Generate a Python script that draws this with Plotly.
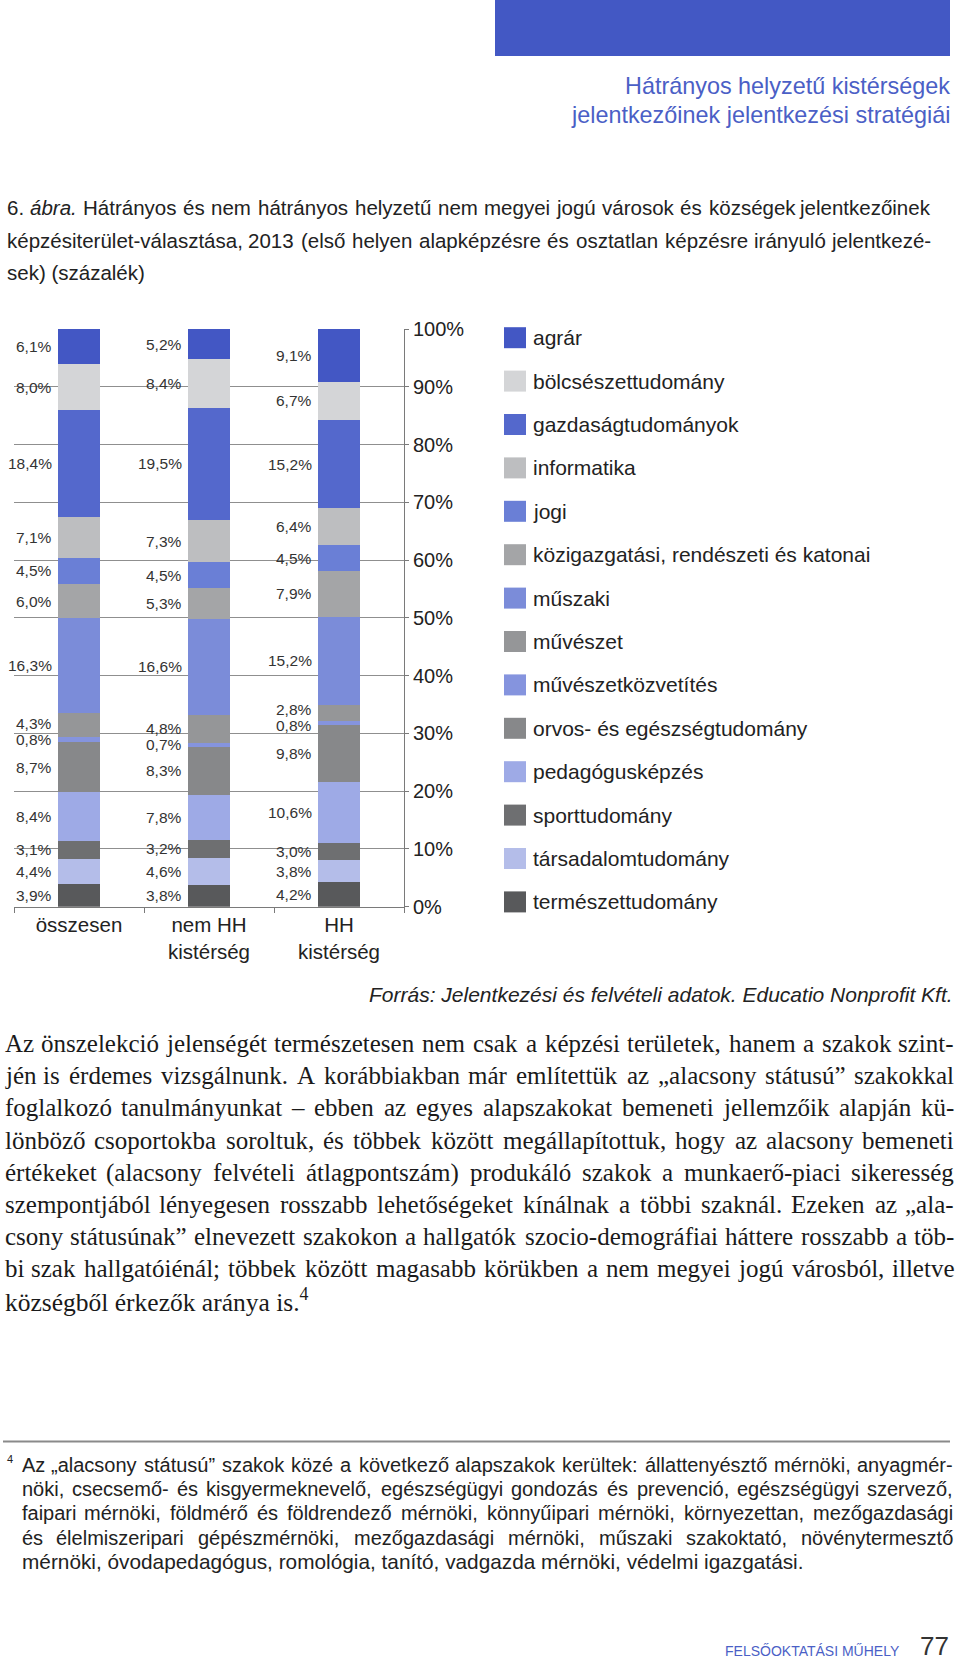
import unicodedata
import plotly.graph_objects as go

W, H = 960, 1666

# ---------------- data ----------------
categories = ["összesen", "nem HH<br>kistérség", "HH<br>kistérség"]
fields = [
    "agrár", "bölcsészettudomány", "gazdaságtudományok", "informatika", "jogi",
    "közigazgatási, rendészeti és katonai", "műszaki", "művészet",
    "művészetközvetítés", "orvos- és egészségtudomány", "pedagógusképzés",
    "sporttudomány", "társadalomtudomány", "természettudomány",
]
osszesen = [6.1, 8.0, 18.4, 7.1, 4.5, 6.0, 16.3, 4.3, 0.8, 8.7, 8.4, 3.1, 4.4, 3.9]
nem_hh = [5.2, 8.4, 19.5, 7.3, 4.5, 5.3, 16.6, 4.8, 0.7, 8.3, 7.8, 3.2, 4.6, 3.8]
hh = [9.1, 6.7, 15.2, 6.4, 4.5, 7.9, 15.2, 2.8, 0.8, 9.8, 10.6, 3.0, 3.8, 4.2]
colors = ["#4357c4", "#d4d5d7", "#5468cc", "#bdbec0", "#6a7fd6", "#a4a5a7",
          "#7b8cd9", "#959698", "#8594de", "#87888a", "#9eaae6", "#6e6f71",
          "#b4bde9", "#58595b"]
y_ticks = list(range(0, 101, 10))
y_ticktext = [f"{v}%" for v in y_ticks]

header_lines = ["Hátrányos helyzetű kistérségek",
                "jelentkezőinek jelentkezési stratégiái"]
caption_lines = [
    "6. ábra. Hátrányos és nem hátrányos helyzetű nem megyei jogú városok és községek jelentkezőinek",
    "képzésiterület-választása, 2013 (első helyen alapképzésre és osztatlan képzésre irányuló jelentkezé-",
    "sek) (százalék)",
]
source_text = "Forrás: Jelentkezési és felvételi adatok. Educatio Nonprofit Kft."
body_lines = [
    "Az önszelekció jelenségét természetesen nem csak a képzési területek, hanem a szakok szint-",
    "jén is érdemes vizsgálnunk. A korábbiakban már említettük az „alacsony státusú” szakokkal",
    "foglalkozó tanulmányunkat – ebben az egyes alapszakokat bemeneti jellemzőik alapján kü-",
    "lönböző csoportokba soroltuk, és többek között megállapítottuk, hogy az alacsony bemeneti",
    "értékeket (alacsony felvételi átlagpontszám) produkáló szakok a munkaerő-piaci sikeresség",
    "szempontjából lényegesen rosszabb lehetőségeket kínálnak a többi szaknál. Ezeken az „ala-",
    "csony státusúnak” elnevezett szakokon a hallgatók szocio-demográfiai háttere rosszabb a töb-",
    "bi szak hallgatóiénál; többek között magasabb körükben a nem megyei jogú városból, illetve",
    "községből érkezők aránya is.<sup>4</sup>",
]
footnote_lines = [
    "Az „alacsony státusú” szakok közé a következő alapszakok kerültek: állattenyésztő mérnöki, anyagmér-",
    "nöki, csecsemő- és kisgyermeknevelő, egészségügyi gondozás és prevenció, egészségügyi szervező,",
    "faipari mérnöki, földmérő és földrendező mérnöki, könnyűipari mérnöki, környezettan, mezőgazdasági",
    "és élelmiszeripari gépészmérnöki, mezőgazdasági mérnöki, műszaki szakoktató, növénytermesztő",
    "mérnöki, óvodapedagógus, romológia, tanító, vadgazda mérnöki, védelmi igazgatási.",
]
footer_text = "FELSŐOKTATÁSI MŰHELY"
page_number = "77"

# ---------------- style ----------------
SANS = "Liberation Sans, Arial, Helvetica, sans-serif"
SERIF = "Liberation Serif, Times New Roman, serif"
TXT = "#222222"
BLUE = "#4b5fc6"

HELV = {' ': 278, ',': 278, '.': 278, ':': 278, ';': 278, '-': 333, '–': 556,
        '„': 333, '”': 333, '“': 333, '(': 333, ')': 333, '%': 889}
HELV.update({d: 556 for d in "0123456789"})
HELV.update(dict(zip("ABCDEFGHIJKLMNOPQRSTUVWXYZ",
                     [667, 667, 722, 722, 667, 611, 778, 722, 278, 500, 667, 556, 833,
                      722, 778, 667, 778, 722, 667, 611, 722, 667, 944, 667, 667, 611])))
HELV.update(dict(zip("abcdefghijklmnopqrstuvwxyz",
                     [556, 556, 500, 556, 556, 278, 556, 556, 222, 222, 500, 222, 833,
                      556, 556, 556, 556, 333, 500, 278, 556, 500, 722, 500, 500, 500])))
TIMES = {' ': 250, ',': 250, '.': 250, ':': 278, ';': 278, '-': 333, '–': 500,
         '„': 444, '”': 444, '“': 444, '(': 333, ')': 333, '%': 833}
TIMES.update({d: 500 for d in "0123456789"})
TIMES.update(dict(zip("ABCDEFGHIJKLMNOPQRSTUVWXYZ",
                      [722, 667, 667, 722, 611, 556, 722, 722, 333, 389, 722, 611, 889,
                       722, 722, 556, 722, 667, 556, 611, 722, 722, 944, 722, 722, 611])))
TIMES.update(dict(zip("abcdefghijklmnopqrstuvwxyz",
                      [444, 500, 444, 500, 444, 333, 500, 500, 278, 278, 500, 278, 778,
                       500, 500, 500, 500, 333, 389, 278, 500, 500, 722, 500, 500, 444])))


def px(x):
    return x / W


def py(y):
    return 1 - y / H


def tw(s, table, size):
    tot = 0
    for ch in s:
        base = unicodedata.normalize('NFD', ch)[0]
        tot += table.get(ch, table.get(base, 500))
    return tot * size / 1000.0


annotations = []
shapes = []


def text(x, y, t, size, family=SANS, color=TXT, xanchor="left", italic=False):
    if italic:
        t = f"<i>{t}</i>"
    annotations.append(dict(xref="paper", yref="paper", x=px(x), y=py(y), text=t,
                            showarrow=False, xanchor=xanchor, yanchor="middle",
                            font=dict(size=size, family=family, color=color),
                            borderpad=0))


def justified(line, x0, x1, y, size, family, table, color=TXT, italic_words=()):
    words = line.split(' ')
    ws = [tw(w, table, size) for w in words]
    gap = (x1 - x0 - sum(ws)) / (len(words) - 1)
    gap = max(gap, 0.6 * tw(' ', table, size))
    x = x0
    n = len(words)
    for i, w in enumerate(words):
        it = i in italic_words
        if i == 0:
            text(x0, y, w, size, family, color, "left", it)
        elif i == n - 1:
            text(x1, y, w, size, family, color, "right", it)
        else:
            text(x + ws[i] / 2, y, w, size, family, color, "center", it)
        x += ws[i] + gap


# ---------------- chart ----------------
fig = go.Figure()
series = [osszesen, nem_hh, hh]
for i in reversed(range(len(fields))):
    fig.add_trace(go.Bar(
        x=categories, y=[s[i] for s in series], name=fields[i],
        marker=dict(color=colors[i], line=dict(width=0)), width=0.33,
        showlegend=False,
    ))

# data labels left of bars
nudges = {(0, 7): 2, (2, 7): 3, (2, 8): -3}
for c, s in enumerate(series):
    base = 0.0
    for i in reversed(range(len(fields))):
        v = s[i]
        annotations.append(dict(
            xref="x", yref="y", x=categories[c], y=base + v / 2,
            text=f"{v:.1f}%".replace('.', ','), showarrow=False,
            xanchor="right", yanchor="middle", xshift=-26, yshift=nudges.get((c, i), 0),
            font=dict(size=15.5, family=SANS, color="#333333"), borderpad=0,
        ))
        base += v

# manual legend
for i, name in enumerate(fields):
    yc = 337.7 + 43.4 * i
    shapes.append(dict(type="rect", xref="paper", yref="paper",
                       x0=px(504), x1=px(526), y0=py(yc + 10.5), y1=py(yc - 10.5),
                       fillcolor=colors[i], line=dict(width=0)))
    text(532, yc, name, 21)

# ---------------- page elements ----------------
shapes.append(dict(type="rect", xref="paper", yref="paper",
                   x0=px(495), x1=px(950), y0=py(56), y1=py(0),
                   fillcolor="#4358c4", line=dict(width=0)))
text(950.5, 86, header_lines[0], 23.4, SANS, BLUE, "right")
text(950.5, 114.7, header_lines[1], 23.4, SANS, BLUE, "right")

cap_y = [208, 240.5, 273]
justified(caption_lines[0], 6, 932, cap_y[0], 20.5, SANS, HELV, italic_words=(1,))
justified(caption_lines[1], 6, 932, cap_y[1], 20.5, SANS, HELV)
text(6, cap_y[2], caption_lines[2], 20.5)

text(953.6, 994, source_text, 21, SANS, TXT, "right", italic=True)

body_y = [1043, 1075, 1107.7, 1140.6, 1172.5, 1204.3, 1236.2, 1268, 1300]
for k, line in enumerate(body_lines):
    if k < len(body_lines) - 1:
        justified(line, 4, 955, body_y[k], 25, SERIF, TIMES, "#1a1a1a")
    else:
        text(4, body_y[k], line, 25.5, SERIF, "#1a1a1a")

shapes.append(dict(type="line", xref="paper", yref="paper",
                   x0=px(3), x1=px(950), y0=py(1441.5), y1=py(1441.5),
                   line=dict(color="#8a8a8a", width=2)))
text(6, 1459, "4", 11)
foot_y = [1465, 1489, 1513, 1537.5, 1561.5]
for k, line in enumerate(footnote_lines):
    if k < len(footnote_lines) - 1:
        justified(line, 21, 953.7, foot_y[k], 20, SANS, HELV)
    else:
        text(21, foot_y[k], line, 20.8)

text(900.6, 1651, footer_text, 14, SANS, BLUE, "right")
text(950, 1646, page_number, 26, SANS, "#333333", "right")

fig.update_layout(
    width=W, height=H, margin=dict(l=0, r=0, t=0, b=0, autoexpand=False),
    paper_bgcolor="white", plot_bgcolor="white",
    barmode="stack", bargap=0,
    xaxis=dict(domain=[px(14), px(404)], range=[-0.5, 2.5], showline=True,
               linecolor="#7a7a7a", linewidth=1,
               ticks="outside", tickson="boundaries", ticklen=5, tickcolor="#7a7a7a",
               tickfont=dict(size=20.5, family=SANS, color=TXT), showgrid=False,
               fixedrange=True, automargin=False),
    yaxis=dict(domain=[py(906.7), py(329)], range=[0, 100], side="right",
               tickvals=y_ticks, ticktext=y_ticktext, showline=True, linecolor="#7a7a7a",
               ticks="outside", ticklen=4, tickcolor="#7a7a7a", showgrid=True,
               gridcolor="#8f8f8f", gridwidth=1, zeroline=False,
               tickfont=dict(size=20, family=SANS, color=TXT), fixedrange=True,
               automargin=False),
    annotations=annotations, shapes=shapes, showlegend=False,
)

post = (
    "document.documentElement.style.margin='0';"
    "document.body.style.margin='0';"
    "document.documentElement.style.overflow='hidden';"
    "document.body.style.overflow='hidden';"
)
fig.write_html("out.html", post_script=post, config={"displayModeBar": False})
